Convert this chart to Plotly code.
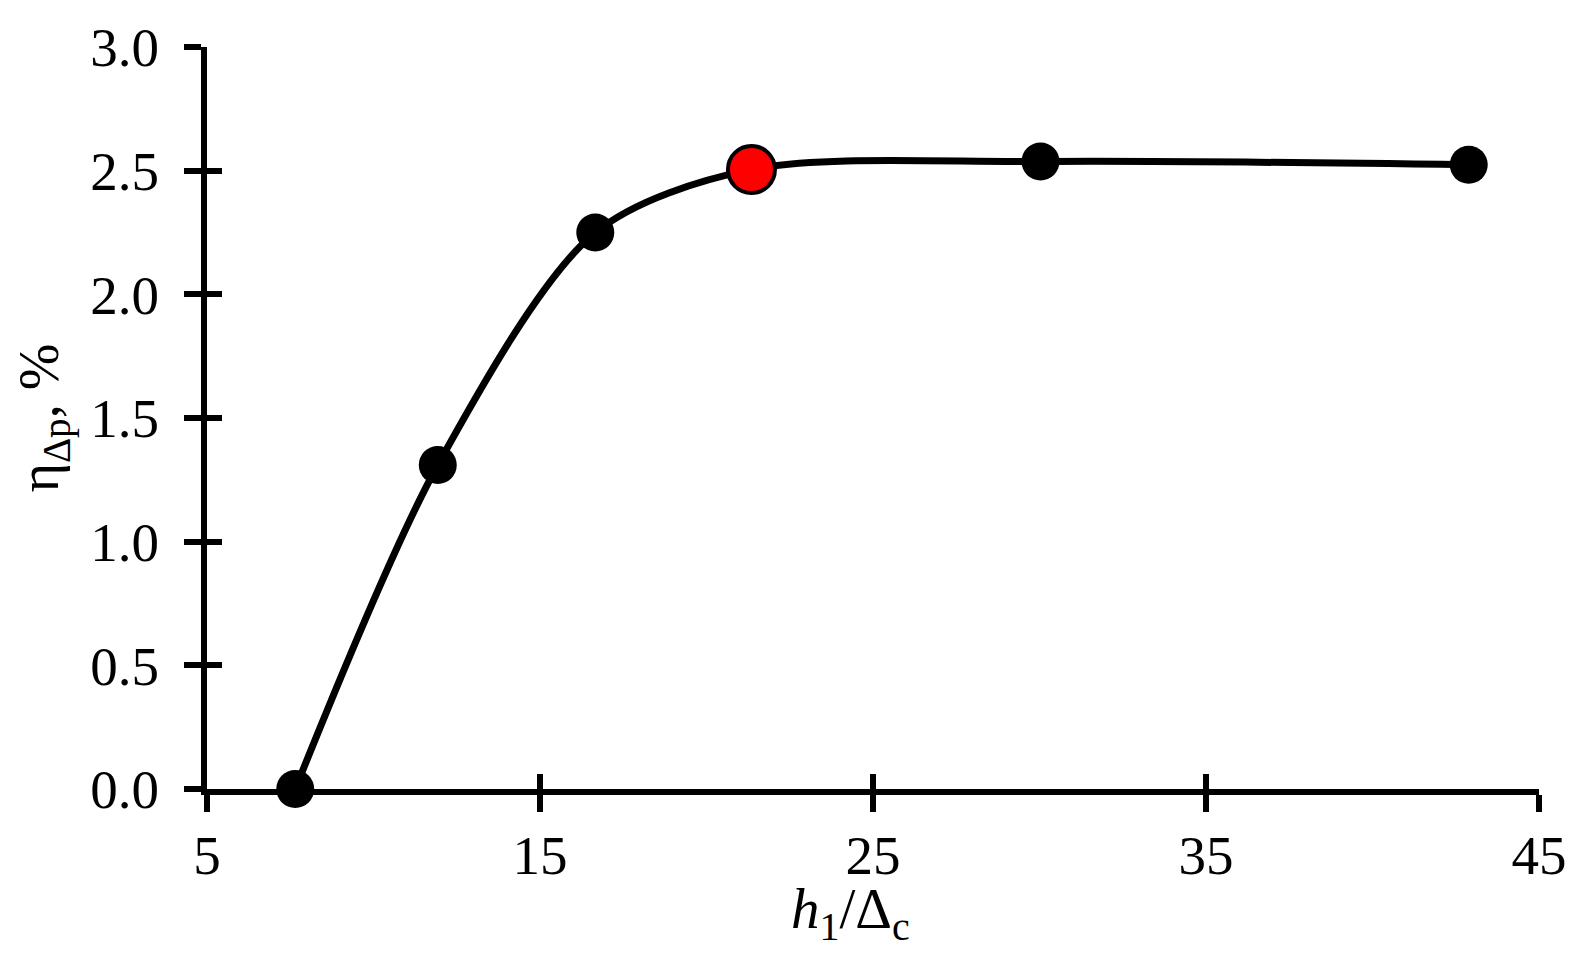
import plotly.graph_objects as go

x_vals = [7.65, 11.93, 16.66, 21.35, 30.03, 42.89]
y_vals = [0.0, 1.31, 2.25, 2.505, 2.537, 2.524]
highlight_x = [21.35]
highlight_y = [2.505]
x_ticks = [5, 15, 25, 35, 45]
y_ticks = [0.0, 0.5, 1.0, 1.5, 2.0, 2.5, 3.0]

FONT = "Times New Roman"

fig = go.Figure()
fig.add_trace(go.Scatter(
    x=x_vals, y=y_vals, mode="lines+markers",
    line=dict(color="black", width=7, shape="spline", smoothing=0.85),
    marker=dict(color="black", size=38),
    cliponaxis=False, showlegend=False,
))
fig.add_trace(go.Scatter(
    x=highlight_x, y=highlight_y, mode="markers",
    marker=dict(color="#ff0000", size=47, line=dict(color="black", width=4)),
    cliponaxis=False, showlegend=False,
))

axis_common = dict(showgrid=False, zeroline=False, linecolor="black", linewidth=6,
                   tickcolor="black", tickwidth=6, ticklen=17, automargin=False,
                   tickfont=dict(family=FONT, size=55, color="black"))

fig.update_layout(
    width=1561, height=943,
    margin=dict(l=199, r=30, t=39, b=162),
    paper_bgcolor="white", plot_bgcolor="white",
    font=dict(family=FONT, color="black"),
    xaxis=dict(range=[5, 45], tickvals=x_ticks, ticks="outside", showline=True,
               ticklabelstandoff=-4, **axis_common),
    yaxis=dict(range=[0, 3], tickvals=y_ticks, tickformat=".1f", ticks="outside", showline=True,
               title=dict(text="η<sub>Δp</sub>, %", font=dict(family=FONT, size=56), standoff=20),
               ticklabelstandoff=14, **axis_common),
    xaxis2=dict(range=[5, 45], tickvals=x_ticks, ticks="inside", overlaying="x",
                showticklabels=False, showline=False, showgrid=False, zeroline=False,
                tickcolor="black", tickwidth=6, ticklen=15),
    yaxis2=dict(range=[0, 3], tickvals=y_ticks, ticks="inside", overlaying="y",
                showticklabels=False, showline=False, showgrid=False, zeroline=False,
                tickcolor="black", tickwidth=6, ticklen=15),
    annotations=[dict(text="<i>h</i><sub>1</sub>/Δ<sub>c</sub>", xref="paper", yref="paper",
                      x=0.483, y=-0.116, xanchor="center", yanchor="top", showarrow=False,
                      font=dict(family=FONT, size=57, color="black"))],
)
fig.add_trace(go.Scatter(x=[None], y=[None], xaxis="x2", yaxis="y2", showlegend=False))

fig.write_html("out.html")
